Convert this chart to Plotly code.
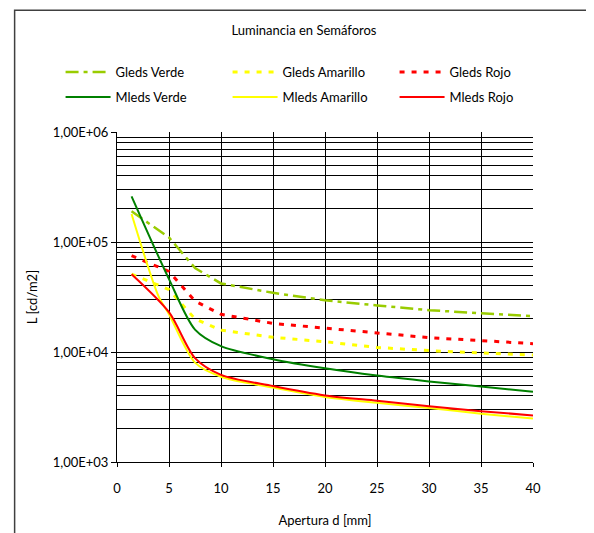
import plotly.graph_objects as go

# ---- data ----
x_std = [1.4, 5, 7.5, 10, 15, 20, 25, 30, 35, 40]
x_mam = [1.4, 4, 5, 7.5, 10, 15, 20, 25, 30, 35, 40]

gleds_verde = [1.9e5, 1.1e5, 5.8e4, 4.2e4, 3.45e4, 2.95e4, 2.65e4, 2.4e4, 2.25e4, 2.12e4]
gleds_amarillo = [5.1e4, 3.7e4, 2.0e4, 1.58e4, 1.36e4, 1.24e4, 1.1e4, 1.03e4, 9.8e3, 9.4e3]
gleds_rojo = [7.5e4, 5.4e4, 2.9e4, 2.2e4, 1.82e4, 1.64e4, 1.48e4, 1.35e4, 1.27e4, 1.19e4]
mleds_verde = [2.6e5, 4.6e4, 1.6e4, 1.13e4, 8.6e3, 7.1e3, 6.1e3, 5.4e3, 4.85e3, 4.35e3]
mleds_amarillo = [1.8e5, 3.2e4, 2.2e4, 8.0e3, 5.95e3, 4.75e3, 3.9e3, 3.45e3, 3.1e3, 2.75e3, 2.48e3]
mleds_rojo = [5.1e4, 2.3e4, 8.8e3, 6.2e3, 4.9e3, 4.03e3, 3.6e3, 3.22e3, 2.9e3, 2.65e3]

ytick_vals = [1e3, 1e4, 1e5, 1e6]
ytick_text = ["1,00E+03", "1,00E+04", "1,00E+05", "1,00E+06"]
xtick_vals = [0, 5, 10, 15, 20, 25, 30, 35, 40]

FONT = "Lato"
OFF = 8  # page offset of the figure inside the browser window

fig = go.Figure()

def add(name, xs, ys, color, width, dash, legend, shape="linear"):
    fig.add_trace(go.Scatter(
        x=xs, y=ys, mode="lines", name=name, legend=legend,
        line=dict(color=color, width=width, dash=dash, shape=shape,
                  smoothing=0.8 if shape == "spline" else None),
    ))

add("Gleds Verde", x_std, gleds_verde, "#99CC00", 2.5, "13px,5px,4px,5px", "legend")
add("Gleds Amarillo", x_std, gleds_amarillo, "#FFFF00", 3, "5px,7px", "legend")
add("Gleds Rojo", x_std, gleds_rojo, "#FF0000", 3, "5px,7px", "legend")
add("Mleds Verde", x_std, mleds_verde, "#008000", 2, "solid", "legend2", "spline")
add("Mleds Amarillo", x_mam, mleds_amarillo, "#FFFF00", 2, "solid", "legend2", "spline")
add("Mleds Rojo", x_std, mleds_rojo, "#FF0000", 2, "solid", "legend2", "spline")

W, H = 594, 533
# target positions in the reference window
left_px, right_px, top_px, bot_px = 116.5, 533, 132, 462.5
L = left_px - OFF
T = top_px - OFF
R = W - (right_px - OFF)
B = H - (bot_px - OFF)
pw, ph = W - L - R, H - T - B

def px_x(x):  # window x -> paper
    return (x - OFF - L) / pw

def px_y(y):  # window y -> paper
    return (H - B - (y - OFF)) / ph

# outer chart-area frame
fig.add_shape(type="rect", xref="paper", yref="paper",
              x0=px_x(14), x1=1.4, y0=-0.5, y1=px_y(10),
              line=dict(color="#404040", width=1.5), fillcolor="rgba(0,0,0,0)", layer="below")

legend_common = dict(orientation="h", xref="paper", yref="paper",
                     xanchor="left", yanchor="middle", entrywidth=107, entrywidthmode="pixels",
                     font=dict(family=FONT, size=13, color="black"), bgcolor="rgba(0,0,0,0)",
                     tracegroupgap=0, itemwidth=45)

fig.update_layout(
    width=W, height=H,
    margin=dict(l=L, r=R, t=T, b=B, autoexpand=False),
    paper_bgcolor="white", plot_bgcolor="white",
    font=dict(family=FONT, size=13, color="black"),
    title=dict(text="Luminancia en Semáforos", x=(304 - OFF) / W, xanchor="center", xref="container",
               y=1 - (30 - OFF) / H, yanchor="middle", yref="container",
               font=dict(family=FONT, size=13, color="black")),
    legend=dict(legend_common, x=px_x(60), y=px_y(72)),
    legend2=dict(legend_common, x=px_x(60), y=px_y(97)),
    showlegend=True,
)

fig.update_xaxes(
    range=[0, 40], tickmode="array", tickvals=xtick_vals,
    showgrid=True, gridcolor="black", gridwidth=1,
    showline=True, linecolor="black", linewidth=1,
    ticks="outside", ticklen=4, tickcolor="black", ticklabelstandoff=10,
    zeroline=False,
    tickfont=dict(family=FONT, size=13, color="black"),
    title=dict(text="Apertura d [mm]", font=dict(family=FONT, size=13, color="black"), standoff=21),
)
fig.update_yaxes(
    type="log", range=[3, 6], tickmode="array", tickvals=ytick_vals, ticktext=ytick_text,
    showgrid=True, gridcolor="black", gridwidth=1,
    minor=dict(dtick="D1", showgrid=True, gridcolor="black", gridwidth=1, ticks=""),
    showline=True, linecolor="black", linewidth=1,
    ticks="outside", ticklen=5, tickcolor="black",
    tickfont=dict(family=FONT, size=13, color="black"),
    title=dict(text="L [cd/m2]", font=dict(family=FONT, size=13, color="black"), standoff=12),
)

fig.write_html("out.html")
